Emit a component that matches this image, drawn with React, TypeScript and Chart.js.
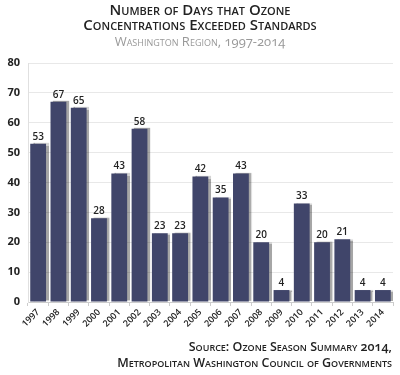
import React, { useEffect, useRef } from "react";
import { Chart, registerables } from "chart.js";

Chart.register(...registerables);

const years = ["1997","1998","1999","2000","2001","2002","2003","2004","2005","2006","2007","2008","2009","2010","2011","2012","2013","2014"];
const days = [53,67,65,28,43,58,23,23,42,35,43,20,4,33,20,21,4,4];
const titleLines = ["Number of Days that Ozone", "Concentrations Exceeded Standards"];
const subtitle = "Washington Region, 1997-2014";
const sourceLines = ["Source: Ozone Season Summary 2014,", "Metropolitan Washington Council of Governments"];

const FONT = "'Open Sans', 'DejaVu Sans', sans-serif";

export default function App() {
  const ref = useRef<HTMLCanvasElement | null>(null);

  useEffect(() => {
    document.body.style.margin = "0";
    const shadowPlugin = {
      id: "barShadow",
      beforeDatasetsDraw(chart: any) {
        const ctx = chart.ctx;
        ctx.save();
        ctx.shadowColor = "rgba(0,0,0,0.35)";
        ctx.shadowOffsetX = 2.5;
        ctx.shadowOffsetY = -0.5;
        ctx.shadowBlur = 1;
      },
      afterDatasetsDraw(chart: any) {
        const ctx = chart.ctx;
        ctx.restore();
        const meta = chart.getDatasetMeta(0);
        ctx.save();
        ctx.fillStyle = "#222";
        ctx.font = `600 10px ${FONT}`;
        ctx.textAlign = "center";
        ctx.textBaseline = "bottom";
        meta.data.forEach((bar: any, i: number) => {
          ctx.fillText(String(chart.data.datasets[0].data[i]), bar.x, bar.y - 2);
        });
        ctx.restore();
      },
    };

    const chart = new Chart(ref.current as HTMLCanvasElement, {
      type: "bar",
      data: {
        labels: years,
        datasets: [
          {
            data: days,
            backgroundColor: "#40456a",
            borderWidth: 0,
            categoryPercentage: 1,
            barPercentage: 0.78,
          },
        ],
      },
      options: {
        animation: false,
        responsive: false,
        layout: { padding: { top: 63, right: 7, left: 0, bottom: 0 } },
        plugins: { legend: { display: false }, tooltip: { enabled: false }, title: { display: false } },
        scales: {
          x: {
            afterFit: (s: any) => { s.height = 73; },
            grid: { display: true, drawOnChartArea: false, tickLength: 4, color: "#cccccc", offset: true },
            border: { color: "#cccccc" },
            ticks: { font: { family: FONT, size: 9, weight: 600 }, color: "#222", maxRotation: 45, minRotation: 45, padding: 1 },
          },
          y: {
            min: 0,
            max: 80,
            afterFit: (s: any) => { s.width = 28; },
            grid: { color: "#e8e8e8", drawTicks: false },
            border: { color: "#e0e0e0" },
            ticks: { stepSize: 10, font: { family: FONT, size: 11, weight: 700 }, color: "#222", padding: 8 },
          },
        },
      },
      plugins: [shadowPlugin],
    } as any);
    return () => chart.destroy();
  }, []);

  const sc: React.CSSProperties = { fontVariant: "small-caps", fontVariantNumeric: "oldstyle-nums", fontFamily: FONT };

  return (
    <div style={{ position: "relative", width: 400, height: 375, background: "#fff" }}>
      <canvas ref={ref} width={400} height={375} style={{ position: "absolute", left: 0, top: 0 }} />
      <div style={{ ...sc, position: "absolute", left: 0, top: 2, width: 400, textAlign: "center", fontSize: 15, fontWeight: 600, color: "#222", lineHeight: "15px" }}>
        <div>{titleLines[0]}</div>
        <div>{titleLines[1]}</div>
      </div>
      <div style={{ ...sc, position: "absolute", left: 0, top: 34, width: 400, textAlign: "center", fontSize: 13, color: "#999", lineHeight: "14px" }}>
        {subtitle}
      </div>
      <div style={{ ...sc, position: "absolute", right: 8, top: 339, textAlign: "right", fontSize: 12.5, fontWeight: 600, color: "#222", lineHeight: "16px", whiteSpace: "nowrap" }}>
        <div>{sourceLines[0]}</div>
        <div>{sourceLines[1]}</div>
      </div>
    </div>
  );
}
